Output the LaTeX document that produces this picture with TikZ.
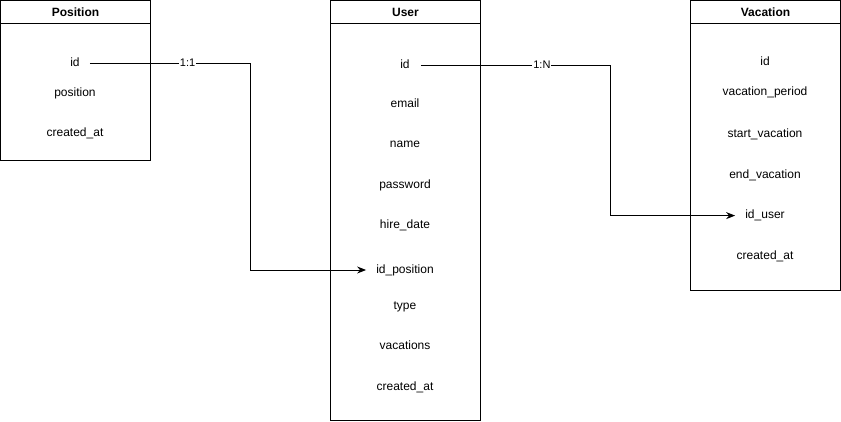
\documentclass[tikz,border=0pt]{standalone}
\usepackage{fontspec}
\setmainfont{Liberation Sans}
\usetikzlibrary{arrows.meta,positioning}

\begin{document}
\begin{tikzpicture}[x=1pt, y=1pt,
      thead/.style={draw, line width=1pt, minimum width=150pt, minimum height=23pt, inner sep=0pt,
                    outer sep=0pt, anchor=north west, font=\fontsize{12}{14}\selectfont\bfseries},
      tbody/.style={draw, line width=1pt, minimum width=150pt, inner sep=0pt, outer sep=0pt},
      fld/.style={font=\fontsize{12}{14}\selectfont, inner sep=0pt, text height=9pt, text depth=3pt},
      rel/.style={line width=1pt, -{Stealth[length=9pt, width=7pt]}},
      card/.style={fill=white, font=\fontsize{11}{13}\selectfont, inner sep=1pt}]
    \useasboundingbox (0,0) rectangle (841,-421);
    % tables
    \node[thead] (phead) at (0.5,-0.5) {Position};
    \node[tbody, minimum height=137pt, below=0pt of phead] (pbody) {};
    \node[thead] (uhead) at (330.5,-0.5) {User};
    \node[tbody, minimum height=397pt, below=0pt of uhead] (ubody) {};
    \node[thead] (vhead) at (690.5,-0.5) {Vacation};
    \node[tbody, minimum height=267pt, below=0pt of vhead] (vbody) {};
    % Position fields
    \node[fld] (pid) at (75,-63) {id};
    \node[fld, below=18pt of pid] (ppos) {position};
    \node[fld, below=28pt of ppos] (pcreated) {created\_at};
    % User fields
    \node[fld] (uid) at (405,-65) {id};
    \node[fld, below=27pt of uid] (uemail) {email};
    \node[fld, below=28pt of uemail] (uname) {name};
    \node[fld, below=28pt of uname] (upass) {password};
    \node[fld, below=28pt of upass] (uhire) {hire\_date};
    \node[fld, below=32pt of uhire] (uidpos) {id\_position};
    \node[fld, below=24pt of uidpos] (utype) {type};
    \node[fld, below=28pt of utype] (uvac) {vacations};
    \node[fld, below=28pt of uvac] (ucreated) {created\_at};
    % Vacation fields
    \node[fld] (vid) at (765,-62) {id};
    \node[fld, below=18pt of vid] (vperiod) {vacation\_period};
    \node[fld, below=30pt of vperiod] (vstart) {start\_vacation};
    \node[fld, below=28pt of vstart] (vend) {end\_vacation};
    \node[fld, below=28pt of vend] (viduser) {id\_user};
    \node[fld, below=28pt of viduser] (vcreated) {created\_at};
    % relations
    \coordinate (k1) at (250,-63);
    \coordinate (k2) at (610,-65);
    \draw[rel] ([xshift=10pt]pid.east) -- node[card, pos=0.61] (c1) {1:1} (k1) |- ([xshift=-10pt]uidpos.west);
    \draw[rel] ([xshift=11pt]uid.east) -- node[card, pos=0.64] (c2) {1:N} (k2) |- ([xshift=-10pt]viduser.west);
  \end{tikzpicture}
\end{document}
